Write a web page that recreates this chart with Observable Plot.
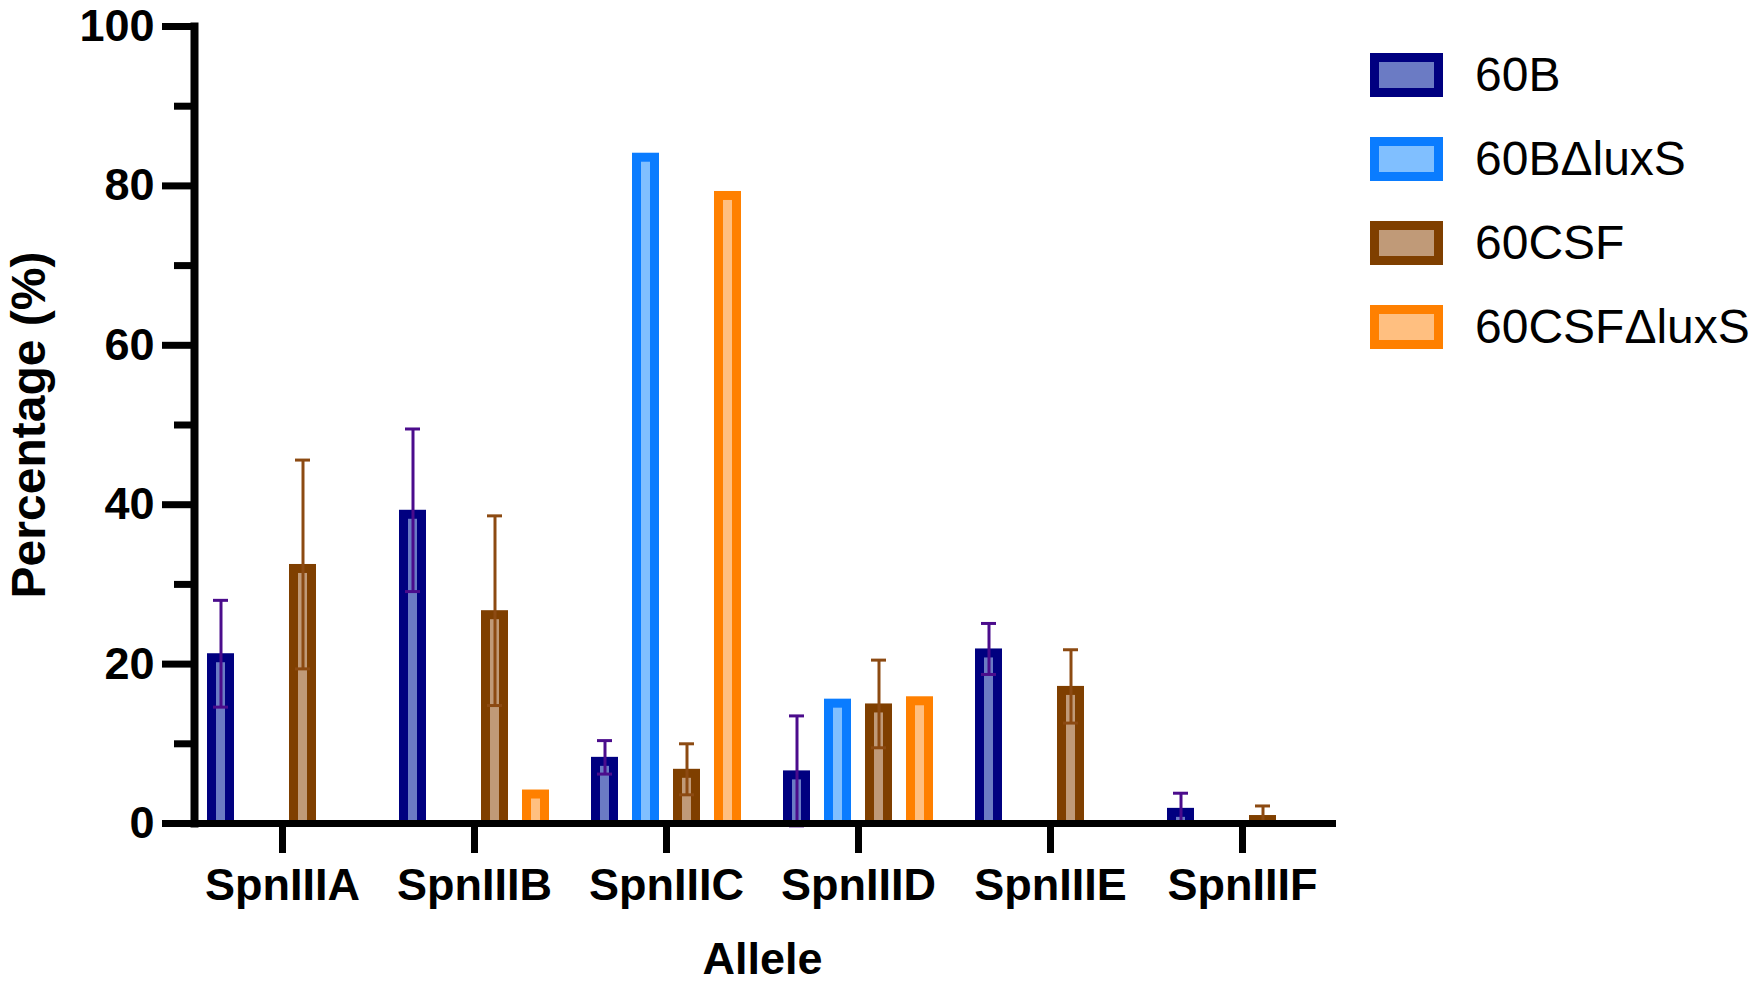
<!DOCTYPE html>
<html>
<head>
<meta charset="utf-8">
<script src="https://cdn.jsdelivr.net/npm/d3@7"></script>
<script src="https://cdn.jsdelivr.net/npm/@observablehq/plot@0.6"></script>
<style>
  html, body { margin: 0; padding: 0; background: #fff; }
  #wrap { position: relative; width: 1758px; height: 982px; }
  #wrap svg { overflow: visible; }
  #legend { position: absolute; left: 1370px; top: 53px; font-family: "Liberation Sans", Arial, sans-serif; }
  .row { display: flex; align-items: center; height: 44px; margin-bottom: 40px; }
  .sw { width: 73px; height: 44px; box-sizing: border-box; border: 9px solid; }
  .lab { margin-left: 32px; font-size: 48px; line-height: 44px; white-space: nowrap; color: #000; }
</style>
</head>
<body>
<div id="wrap"><div id="legend"></div></div>
<script>
const groups = ["SpnIIIA", "SpnIIIB", "SpnIIIC", "SpnIIID", "SpnIIIE", "SpnIIIF"];
const series = ["60B", "60BΔluxS", "60CSF", "60CSFΔluxS"];
const mean60B       = [21.3, 39.3, 8.3, 6.6, 21.9, 1.9];
const mean60BluxS   = [null, null, 84.1, 15.6, null, null];
const mean60CSF     = [32.5, 26.7, 6.8, 15.0, 17.2, 1.0];
const mean60CSFluxS = [null, 4.2, 79.3, 15.9, null, null];
const sd60B         = [6.7, 10.2, 2.1, 6.9, 3.2, 1.9];
const sd60BluxS     = [null, null, null, null, null, null];
const sd60CSF       = [13.1, 11.9, 3.2, 5.5, 4.6, 1.2];
const sd60CSFluxS   = [null, null, null, null, null, null];
const yTicksMajor = [0, 20, 40, 60, 80, 100];
const yTicksMinor = [10, 30, 50, 70, 90];

const strokeColors = ["#000080", "#0A7CFF", "#7F3F00", "#FF8000"];
const fillColors   = ["#6B7BC4", "#80BFFF", "#C09A78", "#FFBF80"];
const errColors    = ["#4B0C8C", "#0A7CFF", "#8C4A12", "#FF8000"];

const means = [mean60B, mean60BluxS, mean60CSF, mean60CSFluxS];
const sds = [sd60B, sd60BluxS, sd60CSF, sd60CSFluxS];

const rows = [];
series.forEach((s, si) => {
  groups.forEach((g, gi) => {
    const v = means[si][gi];
    if (v != null) rows.push({group: g, series: s, si, value: v, sd: sds[si][gi]});
  });
});

const font = "Liberation Sans, Arial, Helvetica, sans-serif";
const marks = [];
series.forEach((s, si) => {
  const data = rows.filter(d => d.si === si);
  marks.push(Plot.barY(data, {fx: "group", x: "series", y: "value", fill: strokeColors[si]}));
  marks.push(Plot.barY(data, {fx: "group", x: "series", y: "value", fill: fillColors[si], insetTop: 9, insetLeft: 9, insetRight: 9}));
});
series.forEach((s, si) => {
  const data = rows.filter(d => d.si === si && d.sd != null);
  if (!data.length) return;
  marks.push(Plot.ruleX(data, {fx: "group", x: "series", y1: d => d.value - d.sd, y2: d => d.value + d.sd, stroke: errColors[si], strokeWidth: 3}));
  marks.push(Plot.tickY(data, {fx: "group", x: "series", y: d => d.value + d.sd, stroke: errColors[si], strokeWidth: 3, insetLeft: 6, insetRight: 6}));
  marks.push(Plot.tickY(data, {fx: "group", x: "series", y: d => d.value - d.sd, stroke: errColors[si], strokeWidth: 3, insetLeft: 6, insetRight: 6}));
});

marks.push(
  Plot.axisY({dx: 8, ticks: yTicksMajor, tickSize: 32, tickPadding: 8, strokeWidth: 7, fontSize: 45, fontWeight: "bold", label: null}),
  Plot.axisY({dx: 8, ticks: yTicksMinor, tickSize: 20, strokeWidth: 7, text: null, label: null}),
  Plot.axisY({dx: 8, ticks: [], tickSize: 0, label: "Percentage (%)", labelAnchor: "center", labelArrow: "none", labelOffset: 176, fontSize: 48, fontWeight: "bold"}),
  Plot.axisFx({anchor: "bottom", tickSize: 30, tickPadding: 15, strokeWidth: 7, fontSize: 45, fontWeight: "bold", label: "Allele", labelAnchor: "center", labelArrow: "none", labelOffset: 150}),
  Plot.frame({anchor: "left", facet: "super", dx: 8, stroke: "#000", strokeWidth: 8, strokeLinecap: "square"}),
  Plot.frame({anchor: "bottom", facet: "super", insetRight: 6, stroke: "#000", strokeWidth: 7})
);

const chart = Plot.plot({
  width: 1758,
  height: 982,
  marginLeft: 184,
  marginRight: 418,
  marginTop: 26,
  marginBottom: 159,
  style: {fontFamily: font, background: "#fff", color: "#000", overflow: "visible"},
  fx: {domain: groups, padding: 0, label: null},
  x: {domain: series, paddingInner: 0.349, paddingOuter: 0.495, axis: null},
  y: {domain: [0, 100], axis: null},
  marks
});
document.getElementById("wrap").prepend(chart);

const legend = document.getElementById("legend");
series.forEach((s, si) => {
  const row = document.createElement("div");
  row.className = "row";
  const sw = document.createElement("div");
  sw.className = "sw";
  sw.style.borderColor = strokeColors[si];
  sw.style.background = fillColors[si];
  const lab = document.createElement("div");
  lab.className = "lab";
  lab.textContent = s;
  row.appendChild(sw);
  row.appendChild(lab);
  legend.appendChild(row);
});
</script>
</body>
</html>
